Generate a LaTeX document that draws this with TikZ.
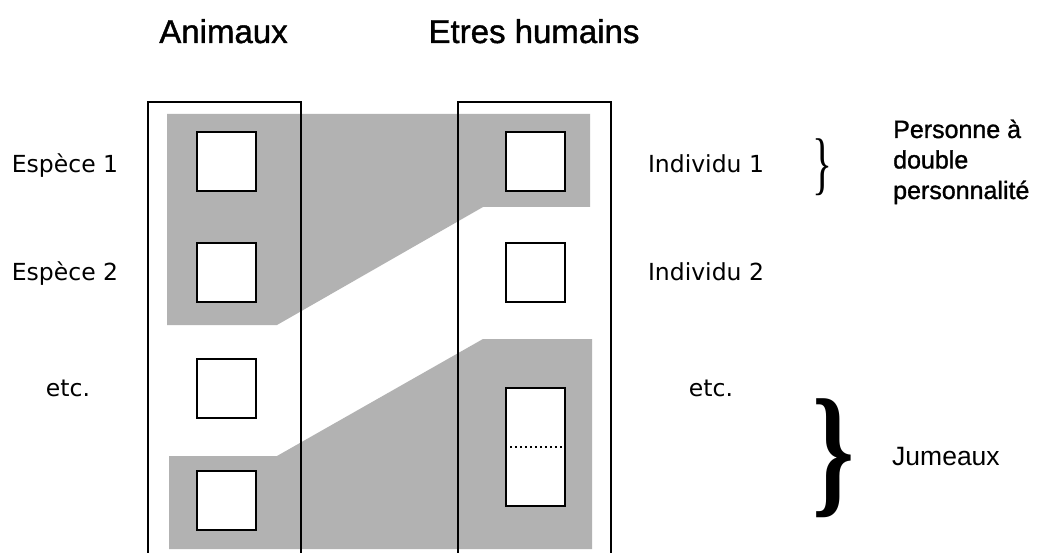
\documentclass[tikz,border=0pt]{standalone}
\usepackage{fontspec}
\usepackage{graphicx}
\newfontfamily\labelfont{DejaVu Sans}
\newfontfamily\headfont[FakeBold=1.2]{Liberation Sans}
\newfontfamily\plainfont{Liberation Sans}
\newfontfamily\bracefont{Liberation Serif}

\begin{document}
\begin{tikzpicture}[x=1pt,y=-1pt]

  % ---- sizing knobs ----
  \pgfmathsetmacro{\ACboxw}{59}      % side of a small box
  \pgfmathsetmacro{\ACcolL}{226.5}   % centre of left column
  \pgfmathsetmacro{\ACcolR}{535.5}   % centre of right column
  \pgfmathsetmacro{\ACtop}{102}      % top of the two frames

  \definecolor{ACLine}{gray}{0.00}
  \definecolor{ACFill}{gray}{0.70}

  \tikzset{
    cellbox/.style={draw=ACLine, fill=white, line width=2pt, inner sep=0pt,
      minimum width=\ACboxw, minimum height=\ACboxw},
    sidetext/.style={font=\labelfont\fontsize{23.5}{28}\selectfont, inner sep=0pt, anchor=base},
    headtext/.style={font=\headfont\fontsize{33}{38}\selectfont, inner sep=0pt, anchor=base},
    notetext/.style={font=\headfont\fontsize{25}{30.5}\selectfont, inner sep=0pt, anchor=base west, align=left},
    bracetext/.style={font=\bracefont, inner sep=0pt, anchor=north west}
  }

  % ---- page ----
  \fill[white] (0,0) rectangle (1052,553);
  \useasboundingbox (0,0) rectangle (1052,553);

  % ---- grey bands ----
  \fill[ACFill] (167,114) -- (590,114) -- (590,207) -- (483,207)
    -- (277,325) -- (167,325) -- cycle;
  \fill[ACFill] (169,456) -- (277,456) -- (483,339) -- (592,339)
    -- (592,549) -- (169,549) -- cycle;

  % ---- frames ----
  \draw[ACLine, line width=2pt] (148,553) -- (148,\ACtop) -- (301,\ACtop) -- (301,553);
  \draw[ACLine, line width=2pt] (458,553) -- (458,\ACtop) -- (611,\ACtop) -- (611,553);

  % ---- boxes ----
  \node[cellbox] (a1) at (\ACcolL,161.5) {};
  \node[cellbox] (a2) at (\ACcolL,273) {};
  \node[cellbox] (a3) at (\ACcolL,388) {};
  \node[cellbox] (a4) at (\ACcolL,500.5) {};

  \node[cellbox] (h1) at (\ACcolR,161.5) {};
  \node[cellbox] (h2) at (\ACcolR,273) {};
  \node[cellbox, minimum height=118] (twin) at (\ACcolR,447) {};
  \draw[ACLine, line width=1.8pt, dash pattern=on 2pt off 3pt] (twin.west) -- (twin.east);

  % ---- headers ----
  \node[headtext] (anim) at (223.5,43) {Animaux};
  \node[headtext] (hum) at (534,43) {Etres humains};

  % ---- row labels ----
  \node[sidetext] (esp1) at (65,173) {Espèce 1};
  \node[sidetext] (esp2) at (65,280) {Espèce 2};
  \node[sidetext] (etcL) at (68,396) {etc.};

  \node[sidetext] (ind1) at (706,173) {Individu 1};
  \node[sidetext] (ind2) at (706,280) {Individu 2};
  \node[sidetext] (etcR) at (711,396) {etc.};

  % ---- braces and notes ----
  \node[bracetext] (brA) at (812,138) {\resizebox*{20pt}{57pt}{\}}};
  \node[bracetext, font=\bracefont\bfseries] (brB) at (812,398) {\resizebox*{42pt}{119pt}{\}}};

  \node[notetext] (perso) at (893,199) {Personne à\\double\\personnalité};
  \node[notetext, font=\plainfont\fontsize{26.5}{30}\selectfont] (jum) at (892,465) {Jumeaux};

\end{tikzpicture}
\end{document}
